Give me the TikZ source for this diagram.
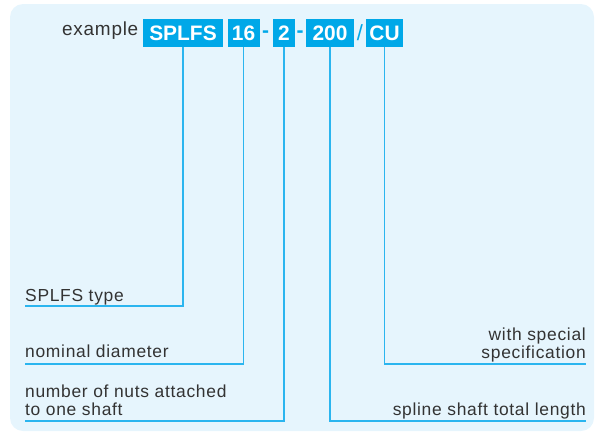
\documentclass[tikz,border=0pt]{standalone}
\usepackage{fontspec}
\setmainfont{Liberation Sans}
\newfontfamily\lblfont[LetterSpace=4]{Liberation Sans}
\definecolor{bgc}{HTML}{E6F5FD}
\definecolor{boxc}{HTML}{00A8E8}
\definecolor{linec}{HTML}{2BB5EF}
\definecolor{txtc}{HTML}{333333}
\tikzset{
  codebox/.style={fill=boxc, text=white, inner sep=0pt, text height=15bp, text depth=0pt,
    minimum height=28bp, font=\fontsize{21}{21}\selectfont\bfseries},
  sep/.style={text=boxc, inner sep=0pt, font=\fontsize{21}{21}\selectfont\bfseries},
  conn/.style={draw=linec, line width=1.4bp},
  lbl/.style={text=txtc, inner sep=0pt, text depth=0pt, font=\lblfont\fontsize{17.5}{18}\selectfont},
}
\begin{document}
\begin{tikzpicture}[x=1bp,y=-1bp]
\useasboundingbox (0,0) rectangle (595,432);
\fill[bgc, rounded corners=13bp] (10,4) rectangle (594,431);
% code
\node[lbl, anchor=base east, font=\lblfont\fontsize{19}{19}\selectfont] (ex) at (138.5,35) {example};
\node[codebox, minimum width=80bp] (b1) at (183,33) {SPLFS};
\node[codebox, minimum width=32bp] (b2) at (243.5,33) {16};
\node[sep] (d1) at (265.5,34) {-};
\node[codebox, minimum width=22bp] (b3) at (284,33) {2};
\node[sep] (d2) at (300,34) {-};
\node[codebox, minimum width=48bp] (b4) at (330,33) {200};
\node[sep, font=\fontsize{22}{22}\selectfont] (d3) at (360,33) {/};
\node[codebox, minimum width=37bp] (b5) at (384.5,33) {CU};
% end points
\coordinate (e1) at (25,306);
\coordinate (e2) at (25,364);
\coordinate (e3) at (25,421);
\coordinate (e4) at (586,421);
\coordinate (e5) at (586,364);
% labels
\node[lbl, anchor=south west] (l1) at (25,302) {SPLFS type};
\node[lbl, anchor=south west] (l2) at (25,358) {nominal diameter};
\node[lbl, anchor=south west, align=left] (l3) at (25,416) {number of nuts attached\\to one shaft};
\node[lbl, anchor=south east] (l4) at (586,416) {spline shaft total length};
\node[lbl, anchor=south east, align=right] (l5) at (586,359) {with special\\specification};
% connectors
\draw[conn] (b1.south) |- (e1);
\draw[conn] (b2.south) |- (e2);
\draw[conn] (b3.south) |- (e3);
\draw[conn] (b4.south) |- (e4);
\draw[conn] (b5.south) |- (e5);
\end{tikzpicture}
\end{document}
